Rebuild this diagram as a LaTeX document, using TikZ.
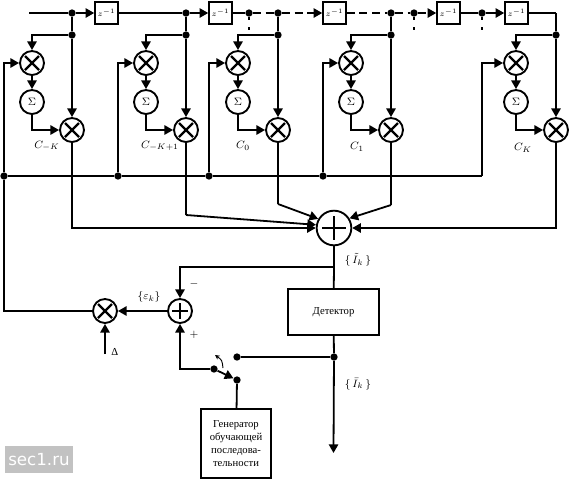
\documentclass[tikz,border=0pt]{standalone}
\usepackage{fontspec}
\setmainfont{Liberation Serif}
\newfontfamily\wmfont{DejaVu Sans}
\usetikzlibrary{arrows.meta}
\tikzset{
  x=0.75pt,y=-0.75pt,
  wire/.style={line width=1.35pt,line cap=butt},
  arr/.style={wire,-{Triangle[length=6.5pt,width=7pt]}},
  dsh/.style={dash pattern=on 6pt off 3.5pt},
  dotn/.style={circle,fill=black,draw=none,inner sep=0pt,minimum size=5.5pt},
  ring/.style={circle,draw,line width=1.4pt,inner sep=0pt,minimum size=18pt,fill=white},
  multn/.style={ring,path picture={
    \draw[line width=1.6pt] ([shift={(-7,-7)}]path picture bounding box.center)--([shift={(7,7)}]path picture bounding box.center);
    \draw[line width=1.6pt] ([shift={(-7,7)}]path picture bounding box.center)--([shift={(7,-7)}]path picture bounding box.center);}},
  plusn/.style={ring,path picture={
    \draw[line width=1.6pt] ([shift={(-8,0)}]path picture bounding box.center)--([shift={(8,0)}]path picture bounding box.center);
    \draw[line width=1.6pt] ([shift={(0,-8)}]path picture bounding box.center)--([shift={(0,8)}]path picture bounding box.center);}},
  bignode/.style={ring,minimum size=26pt,path picture={
    \draw[line width=1.3pt] ([shift={(-12,0)}]path picture bounding box.center)--([shift={(12,0)}]path picture bounding box.center);
    \draw[line width=1.3pt] ([shift={(0,-12)}]path picture bounding box.center)--([shift={(0,12)}]path picture bounding box.center);}},
  sumn/.style={ring,font=\fontsize{8}{9}\selectfont},
  zbox/.style={draw,line width=1.4pt,minimum width=17pt,minimum height=16pt,inner sep=0pt,font=\fontsize{6.5}{7}\selectfont,fill=white},
  blockn/.style={draw,line width=1.4pt,inner sep=0pt,align=center,font=\fontsize{8}{9.7}\selectfont},
  lab/.style={inner sep=0pt,font=\fontsize{8}{9}\selectfont},
}
\begin{document}
\begin{tikzpicture}
\useasboundingbox (0,0) rectangle (569,479);
% delay line
\coordinate (in) at (29,13);
\node[dotn] (t1) at (72,13) {};
\node[zbox] (z1) at (106.5,13) {$z^{-1}$};
\node[dotn] (t2) at (186,13) {};
\node[zbox] (z2) at (220.5,13) {$z^{-1}$};
\node[dotn] (d1) at (249,13) {};
\node[dotn] (t3) at (278,13) {};
\node[zbox] (z3) at (334.5,13) {$z^{-1}$};
\node[dotn] (t4) at (391,13) {};
\node[dotn] (d2) at (414,13) {};
\node[zbox] (z4) at (448.5,13) {$z^{-1}$};
\node[dotn] (d3) at (482,13) {};
\node[zbox] (z5) at (516.5,13) {$z^{-1}$};
\coordinate (tc) at (556,13);
\draw[wire] (in)--(t1);
\draw[arr] (t1)--(z1);
\draw[wire] (z1)--(t2);
\draw[arr] (t2)--(z2);
\draw[wire] (z2)--(d1);
\draw[wire,dsh] (d1)--(t3);
\draw[arr,dsh] (t3)--(z3);
\draw[wire,dsh] (z3)--(t4);
\draw[wire,dsh] (t4)--(d2);
\draw[arr,dsh] (d2)--(z4);
\draw[wire] (z4)--(d3);
\draw[arr] (d3)--(z5);
\draw[wire] (z5)--(tc);
% stubs
\foreach \n/\x in {d1/249,d2/414,d3/482}{
  \coordinate (\n a) at (\x,20);
  \coordinate (\n b) at (\x,27);
  \coordinate (\n c) at (\x,30);
  \draw[wire] (\n)--(\n a);
  \draw[wire,line width=1.4pt] (\n b)--(\n c);
}
% columns
\foreach \i/\x in {1/72,2/186,3/278,4/391,5/556}{
  \node[dotn] (k\i) at (\x,35) {};
  \node[multn] (a\i) at (\x-40,63) {};
  \node[sumn] (s\i) at (\x-40,102) {$\Sigma$};
  \node[multn] (p\i) at (\x,130) {};
  \draw[arr] (k\i)--(p\i);
  \draw[arr] (k\i)-|(a\i);
  \draw[arr] (a\i)--(s\i);
  \draw[arr] (s\i)|-(p\i);
}
\draw[wire] (t1)--(k1);
\draw[wire] (t2)--(k2);
\draw[wire] (t3)--(k3);
\draw[wire] (t4)--(k4);
\draw[wire] (tc)--(k5);
\node[lab] (c1) at (47,146) {$C_{-K}$};
\node[lab] (c2) at (160,146) {$C_{-K+1}$};
\node[lab] (c3) at (243,146) {$C_{0}$};
\node[lab] (c4) at (357,147) {$C_{1}$};
\node[lab] (c5) at (523,148) {$C_{K}$};
% bus
\node[dotn] (b1) at (4,176) {};
\node[dotn] (b2) at (118,176) {};
\node[dotn] (b3) at (209,176) {};
\node[dotn] (b4) at (323,176) {};
\coordinate (bc) at (482,176);
\draw[wire] (b1)--(b2);\draw[wire] (b2)--(b3);\draw[wire] (b3)--(b4);\draw[wire] (b4)--(bc);
\draw[arr] (b1)|-(a1);
\draw[arr] (b2)|-(a2);
\draw[arr] (b3)|-(a3);
\draw[arr] (b4)|-(a4);
\draw[arr] (bc)|-(a5);
% summer
\node[bignode] (sum) at (334,228) {};
\coordinate (j2) at (186,215);
\coordinate (j3) at (278,204);
\coordinate (j4) at (391,205);
\draw[arr] (p1)|-(sum.west);
\draw[wire] (p2)--(j2);
\draw[arr] (j2)--(sum.170);
\draw[wire] (p3)--(j3);
\draw[arr] (j3)--(sum.150);
\draw[wire] (p4)--(j4);
\draw[arr] (j4)--(sum.32);
\draw[arr] (p5)|-(sum.east);
% detector
\node[blockn,minimum width=68.5pt,minimum height=34.5pt] (det) at (333.5,312) {Детектор};
\coordinate (fb) at (334,267);
\draw[wire] (sum)--(fb);
\draw[wire] (fb)--(det);
\node[plusn] (pl) at (180,311) {};
\node[multn] (mx) at (105,311) {};
\draw[arr] (fb)-|(pl);
\draw[arr] (pl)--(mx);
\draw[wire] (b1)|-(mx);
\coordinate (dl) at (105,354);
\draw[arr] (dl)--(mx);
\node[lab,anchor=west] (dlab) at (111,352) {Δ};
\node[lab] (eps) at (149,297) {$\{\varepsilon_k\}$};
\node[lab] (mn) at (194,284) {$-$};
\node[lab] (ps) at (194,335) {$+$};
\node[lab] (i1) at (358,260) {$\{\,\tilde I_k\,\}$};
\node[lab] (i2) at (358,384) {$\{\,\bar I_k\,\}$};
% switch
\node[dotn] (so) at (334,357) {};
\node[dotn] (sa) at (237,357) {};
\node[dotn] (sb) at (214,369) {};
\node[dotn] (sc) at (237,380) {};
\coordinate (oe) at (333.5,453);
\draw[wire] (det)--(so);
\draw[arr] (so)--(oe);
\draw[wire] (so)--(sa);
\draw[arr] (sb)-|(pl);
\draw[arr] (sb)--(sc);
\node[blockn,minimum width=52pt,minimum height=52pt] (gen) at (236,443.5) {Генератор\\обучающей\\последова-\\тельности};
\draw[wire] (sc)--(gen);
\coordinate (ca) at (223,368);
\coordinate (cb) at (215,355);
\draw[line width=0.7pt,-{Stealth[length=3.5pt,width=3.5pt]}] (ca) .. controls (222,360) .. (cb);
% watermark
\node[fill=black!24,text=white,minimum width=51pt,minimum height=20pt,inner sep=0pt,font=\wmfont\fontsize{12.5}{13}\selectfont] (wm) at (39,459.5) {sec1.ru};
\end{tikzpicture}
\end{document}
